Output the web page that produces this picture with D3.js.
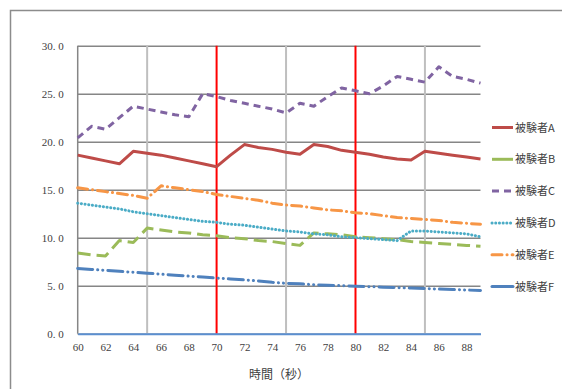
<!DOCTYPE html>
<html>
<head>
<meta charset="utf-8">
<script src="https://cdn.jsdelivr.net/npm/d3@7"></script>
<style>
  html, body { margin: 0; padding: 0; background: #fff; }
  svg { display: block; }
</style>
</head>
<body>
<svg id="chart" width="562" height="389"></svg>
<script>
// Time in seconds (x categories)
const seconds = d3.range(60, 90);
const xTickLabels = [60, 62, 64, 66, 68, 70, 72, 74, 76, 78, 80, 82, 84, 86, 88];
const yTickLabels = [0, 5, 10, 15, 20, 25, 30];
const seriesNames = ["被験者A", "被験者B", "被験者C", "被験者D", "被験者E", "被験者F"];

// Measured values per subject, one per second from 60 to 89
const subjectA = [18.6, 18.3, 18.0, 17.7, 19.0, 18.8, 18.6, 18.3, 18.0, 17.7,
                  17.4, 18.6, 19.7, 19.4, 19.2, 18.9, 18.7, 19.7, 19.5, 19.1,
                  18.9, 18.7, 18.4, 18.2, 18.1, 19.0, 18.8, 18.6, 18.4, 18.2];
const subjectB = [8.4, 8.2, 8.1, 9.7, 9.5, 11.0, 10.8, 10.6, 10.5, 10.3,
                  10.2, 10.0, 9.9, 9.7, 9.6, 9.4, 9.2, 10.5, 10.4, 10.3,
                  10.1, 10.0, 9.9, 9.8, 9.6, 9.5, 9.4, 9.3, 9.2, 9.1];
const subjectC = [20.4, 21.6, 21.3, 22.5, 23.7, 23.4, 23.1, 22.8, 22.6, 25.0,
                  24.7, 24.3, 24.0, 23.7, 23.4, 23.0, 24.0, 23.7, 24.7, 25.6,
                  25.3, 25.0, 25.8, 26.8, 26.5, 26.2, 27.8, 26.8, 26.5, 26.1];
const subjectD = [13.6, 13.4, 13.2, 13.0, 12.7, 12.5, 12.3, 12.1, 11.9, 11.7,
                  11.6, 11.4, 11.3, 11.1, 10.9, 10.7, 10.6, 10.4, 10.3, 10.1,
                  10.0, 9.9, 9.8, 9.7, 10.7, 10.7, 10.6, 10.5, 10.4, 10.1];
const subjectE = [15.2, 15.0, 14.8, 14.6, 14.4, 14.1, 15.4, 15.2, 15.0, 14.8,
                  14.5, 14.3, 14.1, 13.9, 13.6, 13.4, 13.3, 13.1, 12.9, 12.8,
                  12.6, 12.5, 12.3, 12.1, 12.0, 11.9, 11.8, 11.6, 11.5, 11.4];
const subjectF = [6.8, 6.7, 6.6, 6.5, 6.4, 6.3, 6.2, 6.1, 6.0, 5.9,
                  5.8, 5.7, 5.6, 5.5, 5.35, 5.25, 5.2, 5.1, 5.05, 5.0,
                  4.95, 4.9, 4.85, 4.8, 4.75, 4.7, 4.65, 4.6, 4.55, 4.5];

const seriesValues = [subjectA, subjectB, subjectC, subjectD, subjectE, subjectF];
const lightGridSeconds = [65, 75, 85];
const markerSeconds = [70, 80];

// Line styles; legend samples are short, so long-dash patterns show as one stroke
const styles = [
  { color: "#be4b48", dash: null, legendDash: null, cap: "butt" },
  { color: "#9bbb59", dash: "13,6", legendDash: null, cap: "butt" },
  { color: "#8064a2", dash: "7,5", legendDash: "7,5", cap: "butt" },
  { color: "#4bacc6", dash: "0.1,3.6", legendDash: "0.1,3.6", cap: "round" },
  { color: "#f79646", dash: "10,5,0.1,5", legendDash: "10,5,0.1,5", cap: "round" },
  { color: "#4f81bd", dash: "15,5,0.1,5,0.1,5", legendDash: null, cap: "round" }
];

const svg = d3.select("#chart");

// Outer chart frame (partially visible)
svg.append("path")
  .attr("d", "M10.5,389 L10.5,10.5 L562,10.5")
  .attr("fill", "none").attr("stroke", "#8c8c8c").attr("stroke-width", 1.5);

const plot = { left: 77.7, right: 480.5, top: 45.7, bottom: 333.7 };

const x = d3.scaleLinear().domain([60, 89]).range([plot.left, plot.right]);
const y = d3.scaleLinear().domain([0, 30]).range([plot.bottom, plot.top]);

const tickFont = "'Liberation Serif', 'DejaVu Serif', serif";
const cjkFont = "'Noto Sans CJK JP', 'Noto Sans CJK SC', sans-serif";

// Horizontal gridlines
const yAxis = d3.axisLeft(y).tickValues(yTickLabels)
  .tickSize(-(plot.right - plot.left))
  .tickFormat(d => d3.format(".1f")(d).replace(".", ". "));
const gy = svg.append("g").attr("transform", `translate(${plot.left},0)`).call(yAxis);
gy.select(".domain").remove();
gy.selectAll(".tick line").attr("stroke", "#868686").attr("stroke-width", 1.5);
gy.selectAll(".tick text")
  .attr("x", -14).attr("dy", "0.35em")
  .attr("fill", "#404040")
  .style("font-family", tickFont).style("font-size", "11px");

// Light vertical gridlines
svg.append("g").selectAll("line").data(lightGridSeconds).join("line")
  .attr("x1", d => x(d)).attr("x2", d => x(d))
  .attr("y1", plot.top).attr("y2", plot.bottom)
  .attr("stroke", "#bfbfbf").attr("stroke-width", 2);

// Value axis line
svg.append("line")
  .attr("x1", plot.left).attr("x2", plot.left)
  .attr("y1", plot.top).attr("y2", plot.bottom)
  .attr("stroke", "#868686").attr("stroke-width", 1.5);

// Red reference lines
svg.append("g").selectAll("line").data(markerSeconds).join("line")
  .attr("x1", d => x(d)).attr("x2", d => x(d))
  .attr("y1", plot.top).attr("y2", plot.bottom)
  .attr("stroke", "#ff0000").attr("stroke-width", 2);

// Category axis
const xAxis = d3.axisBottom(x).tickValues(xTickLabels).tickSize(0).tickFormat(d => d);
const gx = svg.append("g").attr("transform", `translate(0,${plot.bottom})`).call(xAxis);
gx.select(".domain").attr("stroke", "#5b8fd0").attr("stroke-width", 2);
gx.selectAll(".tick text")
  .attr("y", 10).attr("dy", "0.71em")
  .attr("fill", "#404040")
  .style("font-family", tickFont).style("font-size", "11px");

// Series lines
const line = d3.line().x((d, i) => x(seconds[i])).y(d => y(d));
svg.append("g").selectAll("path").data(seriesValues).join("path")
  .attr("d", d => line(d))
  .attr("fill", "none")
  .attr("stroke", (d, i) => styles[i].color)
  .attr("stroke-width", 3)
  .attr("stroke-linecap", (d, i) => styles[i].cap)
  .attr("stroke-linejoin", "round")
  .attr("stroke-dasharray", (d, i) => styles[i].dash);

// Axis title
svg.append("text")
  .attr("x", 279).attr("y", 379)
  .attr("text-anchor", "middle")
  .attr("fill", "#404040")
  .style("font-family", cjkFont).style("font-size", "12px")
  .text("時間（秒）");

// Legend
const legend = svg.append("g").selectAll("g").data(seriesNames).join("g")
  .attr("transform", (d, i) => `translate(492,${127.5 + i * 31.8})`);
legend.append("line")
  .attr("x1", 0).attr("x2", 21).attr("y1", 0).attr("y2", 0)
  .attr("stroke", (d, i) => styles[i].color)
  .attr("stroke-width", 3)
  .attr("stroke-linecap", (d, i) => styles[i].cap)
  .attr("stroke-dasharray", (d, i) => styles[i].legendDash);
legend.append("text")
  .attr("x", 23).attr("y", 0).attr("dy", "0.38em")
  .attr("fill", "#404040")
  .style("font-family", cjkFont).style("font-size", "11px")
  .text(d => d);
</script>
</body>
</html>
